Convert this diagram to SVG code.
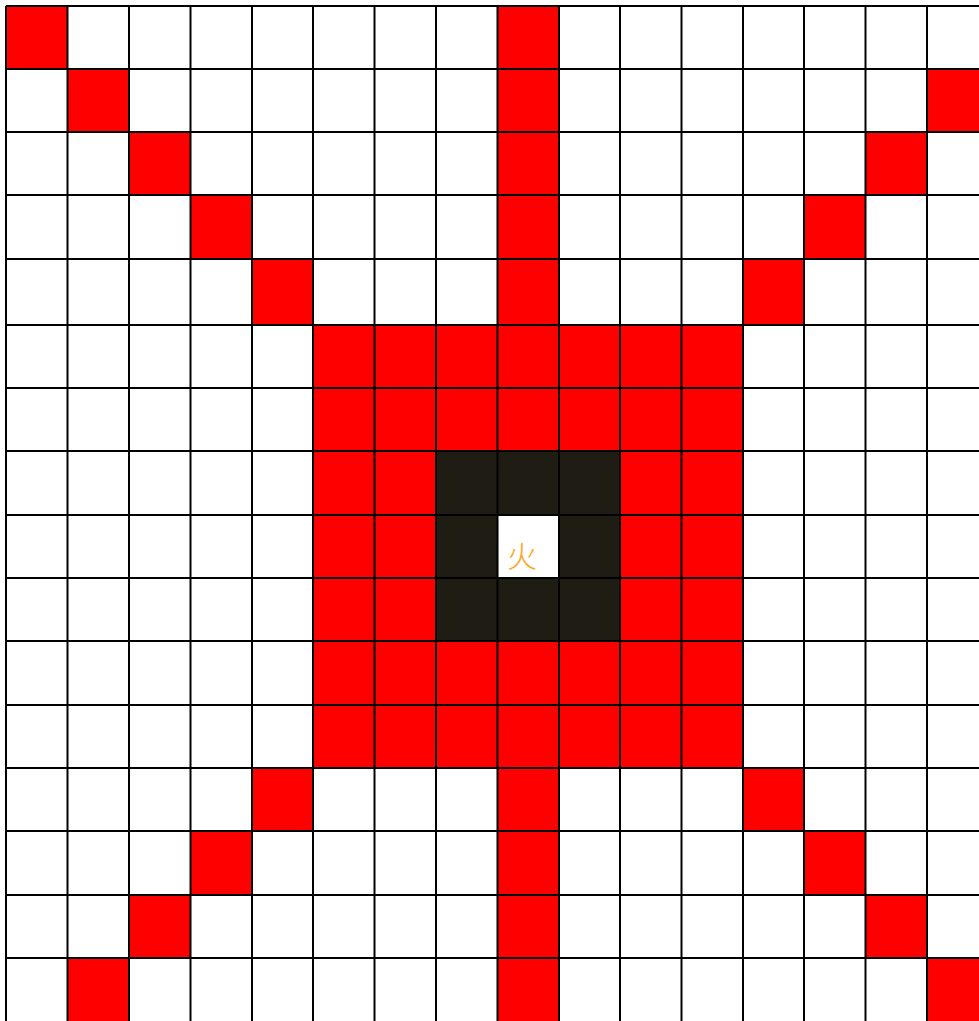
<svg xmlns="http://www.w3.org/2000/svg" width="979" height="1021" viewBox="0 0 979 1021">
<style>
.r{fill:#ff0000}
.d{fill:#1f1c13}
.g{stroke:#000;stroke-width:2;fill:none}
.t{font-family:"Noto Sans CJK SC","Noto Sans CJK JP",sans-serif;font-size:30px;font-weight:300;fill:#ffa31a;text-anchor:middle}
</style>
<rect x="0" y="0" width="979" height="1021" fill="#fff"/>
<g id="red-cells">
<rect class="r" x="6" y="6" width="61.5" height="63"/>
<rect class="r" x="497.5" y="6" width="61.5" height="63"/>
<rect class="r" x="67.5" y="69" width="61.5" height="63"/>
<rect class="r" x="497.5" y="69" width="61.5" height="63"/>
<rect class="r" x="927" y="69" width="61" height="63"/>
<rect class="r" x="129" y="132" width="61.5" height="63"/>
<rect class="r" x="497.5" y="132" width="61.5" height="63"/>
<rect class="r" x="865.5" y="132" width="61.5" height="63"/>
<rect class="r" x="190.5" y="195" width="61.5" height="64"/>
<rect class="r" x="497.5" y="195" width="61.5" height="64"/>
<rect class="r" x="804" y="195" width="61.5" height="64"/>
<rect class="r" x="252" y="259" width="61" height="66"/>
<rect class="r" x="497.5" y="259" width="61.5" height="66"/>
<rect class="r" x="743" y="259" width="61" height="66"/>
<rect class="r" x="313" y="325" width="430" height="443"/>
<rect class="r" x="252" y="768" width="61" height="63"/>
<rect class="r" x="497.5" y="768" width="61.5" height="63"/>
<rect class="r" x="743" y="768" width="61" height="63"/>
<rect class="r" x="190.5" y="831" width="61.5" height="64"/>
<rect class="r" x="497.5" y="831" width="61.5" height="64"/>
<rect class="r" x="804" y="831" width="61.5" height="64"/>
<rect class="r" x="129" y="895" width="61.5" height="63"/>
<rect class="r" x="497.5" y="895" width="61.5" height="63"/>
<rect class="r" x="865.5" y="895" width="61.5" height="63"/>
<rect class="r" x="67.5" y="958" width="61.5" height="63"/>
<rect class="r" x="497.5" y="958" width="61.5" height="63"/>
<rect class="r" x="927" y="958" width="61" height="63"/>
</g>
<g id="dark-ring">
<rect class="d" x="436" y="451" width="184" height="190"/>
</g>
<g id="centre-cell">
<rect x="497.5" y="515" width="61.5" height="63" fill="#fff"/>
<text class="t" x="522" y="567">火</text>
</g>
<g id="grid-lines" class="g">
<path d="M6 6V1021M67.5 6V1021M129 6V1021M190.5 6V1021M252 6V1021M313 6V1021M374.5 6V1021M436 6V1021M497.5 6V1021M559 6V1021M620 6V1021M681.5 6V1021M743 6V1021M804 6V1021M865.5 6V1021M927 6V1021"/>
<path d="M6 6H979M6 69H979M6 132H979M6 195H979M6 259H979M6 325H979M6 388H979M6 451H979M6 515H979M6 578H979M6 641H979M6 705H979M6 768H979M6 831H979M6 895H979M6 958H979"/>
</g>
</svg>
